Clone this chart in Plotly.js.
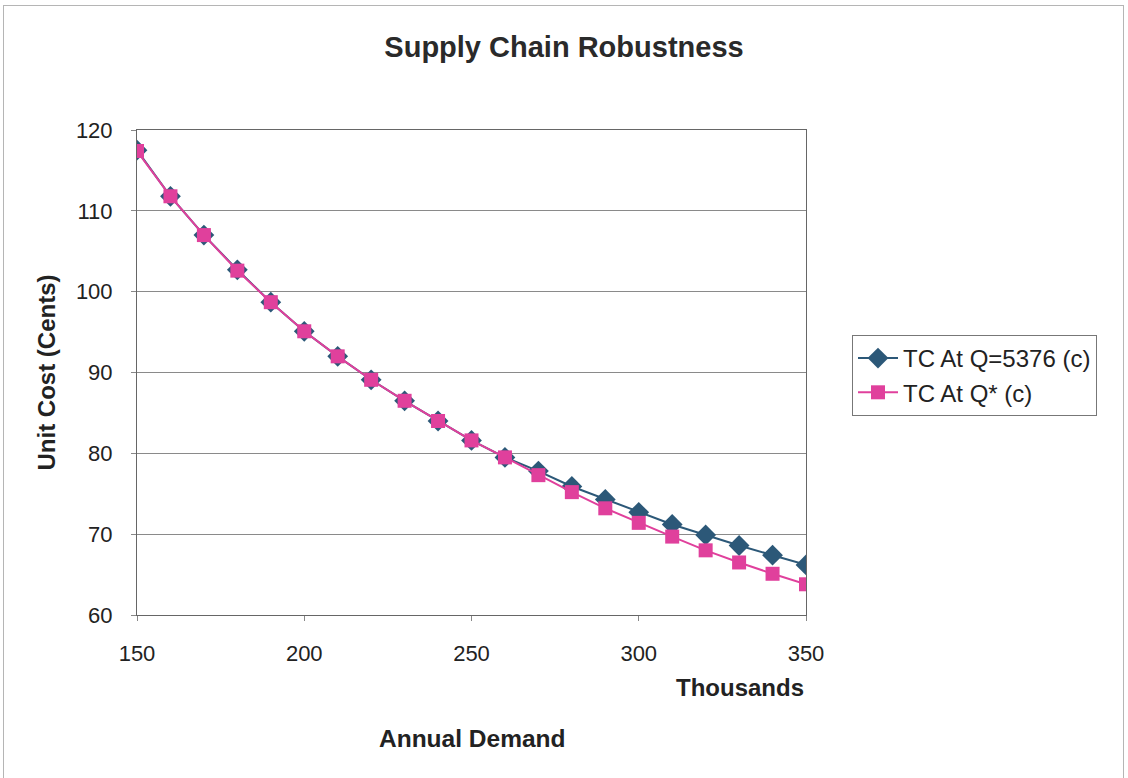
<!DOCTYPE html>
<html>
<head>
<meta charset="utf-8">
<script src="https://cdn.plot.ly/plotly-3.0.1.min.js"></script>
<style>
  html, body { margin: 0; padding: 0; background: #fff; }
  #wrap { position: relative; width: 1128px; height: 778px; }
  #chart { width: 1128px; height: 778px; }
  #frame { position: absolute; left: 3px; top: 5px; width: 1121px; height: 780px;
           border: 1px solid #b5b5b5; pointer-events: none; box-sizing: border-box; }
</style>
</head>
<body>
<div id="wrap">
  <div id="chart"></div>
  <div id="frame"></div>
</div>
<script>
// Annual demand, in thousands of units
const demand = [150, 160, 170, 180, 190, 200, 210, 220, 230, 240, 250,
                260, 270, 280, 290, 300, 310, 320, 330, 340, 350];

// Total unit cost (cents) with a fixed order quantity of 5376
const tcFixedQ = [117.5, 111.8, 107.0, 102.7, 98.7, 95.1, 92.0, 89.1, 86.5, 84.0, 81.6,
                  79.5, 77.8, 75.9, 74.3, 72.7, 71.2, 69.9, 68.6, 67.4, 66.2];

// Total unit cost (cents) at the optimal order quantity Q*
const tcOptimalQ = [117.4, 111.8, 107.0, 102.6, 98.7, 95.1, 92.0, 89.1, 86.5, 84.0, 81.6,
                    79.5, 77.3, 75.2, 73.2, 71.4, 69.7, 68.0, 66.5, 65.1, 63.8];

const seriesNames = ['TC At Q=5376 (c)', 'TC At Q* (c)'];
const xTicks = [150, 200, 250, 300, 350];
const yTicks = [60, 70, 80, 90, 100, 110, 120];

const font = 'Liberation Sans, Arial, sans-serif';
const blue = '#2c5878';
const pink = '#e0409c';

const traces = [
  {
    x: demand, y: tcFixedQ, name: seriesNames[0], type: 'scatter', mode: 'lines+markers',
    line: { color: blue, width: 2 },
    marker: { symbol: 'diamond', size: 16, color: blue }
  },
  {
    x: demand, y: tcOptimalQ, name: seriesNames[1], type: 'scatter', mode: 'lines+markers',
    line: { color: pink, width: 2 },
    marker: { symbol: 'square', size: 14, color: pink }
  }
];

const layout = {
  width: 1128, height: 778,
  margin: { l: 137, r: 322, t: 130, b: 163 },
  paper_bgcolor: '#ffffff', plot_bgcolor: '#ffffff',
  font: { family: font, color: '#222', size: 22 },
  title: {
    text: '<b>Supply Chain Robustness</b>',
    font: { family: font, size: 29, color: '#2a2a2a' },
    x: 0.5, xref: 'container', xanchor: 'center',
    y: 1 - 47 / 778, yref: 'container', yanchor: 'middle'
  },
  xaxis: {
    range: [150, 350], tickvals: xTicks, ticktext: xTicks.map(String),
    showgrid: false, zeroline: false,
    showline: true, linecolor: '#666', linewidth: 1, mirror: true,
    ticks: 'outside', ticklen: 5, tickcolor: '#888',
    ticklabelstandoff: 14,
    tickfont: { family: font, size: 22, color: '#222' }
  },
  yaxis: {
    range: [60, 120], tickvals: yTicks, ticktext: yTicks.map(String),
    showgrid: true, gridcolor: '#8a8a8a', gridwidth: 1, zeroline: false,
    showline: true, linecolor: '#666', linewidth: 1, mirror: true,
    ticks: 'outside', ticklen: 5, tickcolor: '#888',
    ticklabelstandoff: 14,
    tickfont: { family: font, size: 22, color: '#222' },
    title: { text: '<b>Unit Cost (Cents)</b>', font: { family: font, size: 24, color: '#222' }, standoff: 13 }
  },
  legend: {
    x: (852 - 137) / 669, xanchor: 'left',
    y: (615 - 335) / 485, yanchor: 'top',
    bgcolor: '#ffffff', bordercolor: '#777', borderwidth: 1,
    font: { family: font, size: 24, color: '#222' },
    tracegroupgap: 2, itemwidth: 40
  },
  annotations: [
    {
      text: '<b>Thousands</b>', xref: 'paper', yref: 'paper',
      x: 1, xanchor: 'right', y: -72 / 485, yanchor: 'middle',
      showarrow: false, font: { family: font, size: 24, color: '#222' }
    },
    {
      text: '<b>Annual Demand</b>', xref: 'paper', yref: 'paper',
      x: (472 - 137) / 669, xanchor: 'center', y: -123 / 485, yanchor: 'middle',
      showarrow: false, font: { family: font, size: 24.5, color: '#222' }
    }
  ],
  showlegend: true
};

Plotly.newPlot('chart', traces, layout, { displayModeBar: false, staticPlot: true });
</script>
</body>
</html>
